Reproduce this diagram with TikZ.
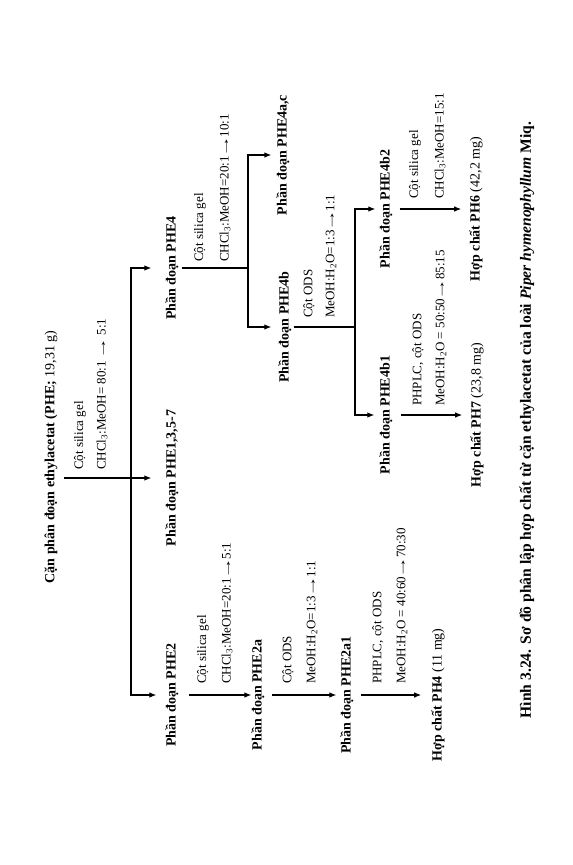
\documentclass[tikz,border=0pt]{standalone}
\usepackage{fontspec}
\usepackage{graphicx}
\setmainfont{Liberation Serif}
\usetikzlibrary{arrows.meta}
\newcommand{\lra}{\kern-1.5pt\scalebox{1.7}[1]{→}\kern-1.5pt}
\begin{document}
\begin{tikzpicture}[x=1pt,y=-1pt,
  lbl/.style={rotate=90,anchor=west,inner sep=0pt,font=\fontsize{13}{15}\selectfont},
  fr/.style={rotate=90,inner sep=0pt,font=\fontsize{14}{16}\selectfont\bfseries},
  ln/.style={line width=1.1pt},
  arr/.style={ln,-{Latex[length=7pt,width=5.5pt]}},
  dbl/.style={ln,{Latex[length=7pt,width=5.5pt]}-{Latex[length=7pt,width=5.5pt]}}]
\useasboundingbox[fill=white] (0,0) rectangle (573,865);
% main nodes
\node[fr] (title) at (51,457) {Cặn phân đoạn ethylacetat (PHE; \mdseries 19,31 g)};
\node[fr] (P135) at (172,478) {Phần đoạn PHE1,3,5-7};
\node[fr] (PHE2) at (172,695) {Phần đoạn PHE2};
\node[fr] (PHE2a) at (258,695) {Phần đoạn PHE2a};
\node[fr] (PHE2a1) at (347,695) {Phần đoạn PHE2a1};
\node[fr] (PH4) at (438,695) {Hợp chất PH4 \mdseries(11 mg)};
\node[fr] (PHE4) at (172,268) {Phần đoạn PHE4};
\node[fr] (PHE4ac) at (283,155) {Phần đoạn PHE4a,c};
\node[fr] (PHE4b) at (285,327) {Phần đoạn PHE4b};
\node[fr] (PHE4b1) at (386,415) {Phần đoạn PHE4b1};
\node[fr] (PHE4b2) at (386,209) {Phần đoạn PHE4b2};
\node[fr] (PH6) at (476,209) {Hợp chất PH6 \mdseries(42,2 mg)};
\node[fr] (PH7) at (477,415) {Hợp chất PH7 \mdseries(23,8 mg)};
\node[rotate=90,inner sep=0pt,font=\fontsize{15.6}{18}\selectfont\bfseries] (cap) at (527,420)
  {Hình 3.24. Sơ đồ phân lập hợp chất từ cặn ethylacetat của loài \textit{Piper hymenophyllum} Miq.};
% junctions
\coordinate (j0) at (131,478);
\coordinate (j4) at (248,268);
\coordinate (j5) at (355,327);
% connectors
\draw[arr,shorten <=6pt,shorten >=14pt] (title.south |- P135) -- (P135.north);
\draw[dbl,shorten <=14pt,shorten >=9pt] (PHE4.north) -| (j0) |- (PHE2.north);
\draw[arr,shorten <=10pt,shorten >=0pt] (PHE2.south) -- (PHE2a.north);
\draw[arr,shorten <=7pt,shorten >=4pt] (PHE2a.south) -- (PHE2a1.north);
\draw[arr,shorten <=7pt,shorten >=10pt] (PHE2a1.south) -- (PH4.north);
\draw[ln,shorten <=3pt] (PHE4.south) -- (j4);
\draw[dbl,shorten <=5pt,shorten >=7pt] (PHE4ac.north) -| (j4) |- (PHE4b.north);
\draw[ln,shorten <=2pt] (PHE4b.south) -- (j5);
\draw[dbl,shorten <=4pt,shorten >=5pt] (PHE4b2.north) -| (j5) |- (PHE4b1.north);
\draw[arr,shorten <=8pt,shorten >=8pt] (PHE4b1.south) -- (PH7.north);
\draw[arr,shorten <=7pt,shorten >=8pt] (PHE4b2.south) -- (PH6.north);
% labels
\node[lbl] (l1) at (80,470) {Cột silica gel};
\node[lbl] (l2) at (102,470) {CHCl\textsubscript{3}:MeOH= 80:1 \lra\ 5:1};
\node[lbl] (l3) at (203,684) {Cột silica gel};
\node[lbl] (l4) at (227,684) {CHCl\textsubscript{3}:MeOH=20:1\lra5:1};
\node[lbl] (l5) at (288,684) {Cột ODS};
\node[lbl] (l6) at (312,684) {MeOH:H\textsubscript{2}O=1:3\lra1:1};
\node[lbl] (l7) at (378,684) {PHPLC, cột ODS};
\node[lbl] (l8) at (402,684) {MeOH:H\textsubscript{2}O = 40:60\lra70:30};
\node[lbl] (l9) at (200,262) {Cột silica gel};
\node[lbl] (l10) at (225,262) {CHCl\textsubscript{3}:MeOH=20:1\lra10:1};
\node[lbl] (l11) at (309,318) {Cột ODS};
\node[lbl] (l12) at (331,318) {MeOH:H\textsubscript{2}O=1:3\lra1:1};
\node[lbl] (l13) at (418,406) {PHPLC, cột ODS};
\node[lbl] (l14) at (441,406) {MeOH:H\textsubscript{2}O = 50:50\lra85:15};
\node[lbl] (l15) at (415,199) {Cột silica gel};
\node[lbl] (l16) at (440,199) {CHCl\textsubscript{3}:MeOH=15:1};
\end{tikzpicture}
\end{document}
